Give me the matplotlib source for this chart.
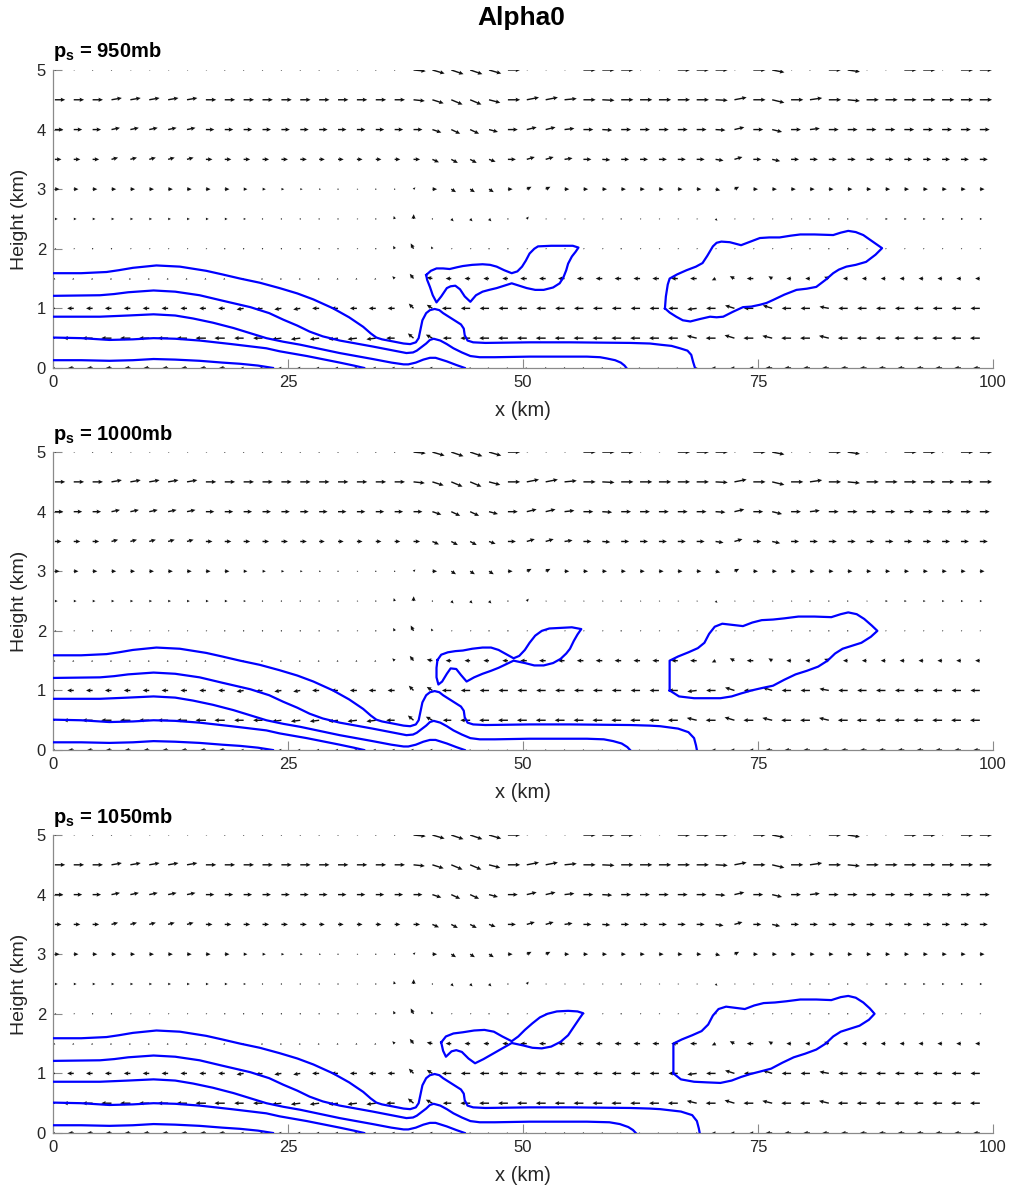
import numpy as np
import matplotlib
matplotlib.use('Agg')
import matplotlib.pyplot as plt

plt.rcParams['font.family'] = ['Liberation Sans', 'DejaVu Sans']
plt.rcParams['mathtext.fontset'] = 'custom'
plt.rcParams['mathtext.rm'] = 'Liberation Sans'
plt.rcParams['mathtext.bf'] = 'Liberation Sans:bold'

# wind sample grid (km)
x_grid = np.linspace(0.2, 98.6, 50)
z_grid = np.arange(0, 5.01, 0.5)

# horizontal wind u (m/s) per level, 50 columns each
u_00 = [-6, -6, -6, -6, -6, -6, -6, -6, -6, -6,
        -3, -3, -3, -3, -3, -3, -3, -3, -3, -3,
        -3, -1.5, -1.5, -1.5, -1.5, -1.5, -1.5, -1.5, -1.5, -1.5,
        -1.5, -1.5, -1.5, -1.5, -1.5, -4, -4, -4, -7, -7,
        -7, -7, -7, -7, -7, -7, -7, -7, -7, -7]
u_05 = [-11, -11, -11, -11, -11, -11, -11, -11, -11, -11,
        -10, -10, -10, -10, -10, -10, -10, -10, -9, -6,
        -7, -9, -10.5, -10.5, -10.5, -10.5, -10.5, -10.5, -10.5, -10.5,
        -10.5, -10.5, -10.5, -10.5, -10.5, -10.5, -10.5, -10.5, -10.5, -10.5,
        -10.5, -10.5, -10.5, -10.5, -10.5, -10.5, -10.5, -10.5, -10.5, -10.5]
u_10 = [-7, -7, -7, -7, -7, -7, -7, -7, -7, -7,
        -7.5, -7.5, -7.5, -7.5, -7.5, -7.5, -7.5, -7.5, -7.5, -5,
        -6, -10, -10, -10, -10, -10, -10, -10, -10, -10,
        -10, -10, -10, -10, -10, -10, -10, -10, -10, -10,
        -10, -10, -10, -10, -10, -10, -10, -10, -10, -10]
u_15 = [-1.5, -1.5, -1.5, -1.5, -1.5, -1.5, -1.5, -1.5, -1.5, -1.5,
        -1.5, -1.5, -1.5, -1.5, -1.5, -1.5, -1.5, -1.5, -2.5, -4,
        -6, -6, -6, -6, -6, -7, -7, -7, -7, -7,
        -7, -7, -7, -7, -7, -4, -5, -7, -4, -5,
        -5, -5, -5, -5, -5, -5, -5, -5, -5, -5]
u_20 = [1.5, 1.5, 1.5, 1.5, 1.5, 1.5, 1.5, 1.5, 1.5, 1.5,
        1.5, 1.5, 1.5, 1.5, 1.5, 1.5, 1.5, 1.5, -1.5, -3,
        -1.5, 1.5, 1.5, 1.5, 1.5, 1.5, 1.5, 1.5, 1.5, 1.5,
        1.5, 1.5, 1.5, 1.5, 1.5, 1.5, 1.5, 1.5, 1.5, 1.5,
        1.5, 1.5, 1.5, 1.5, 1.5, 1.5, 1.5, 1.5, 1.5, 1.5]
u_25 = [3, 3, 3, 3, 3, 3, 3, 3, 3, 3,
        2.5, 1.5, 1.5, 1.5, 1.5, 1.5, 1.5, 1.5, -1, 0.2,
        1, 2.5, 2.5, 2.5, 1.5, 2, 1.5, 1.5, 1.5, 1.5,
        1.5, 1.5, 1.5, 1.5, 1.5, 2, 1.5, 1.5, 1.5, 1.5,
        1.5, 1.5, 1.5, 1.5, 2.5, 2.5, 2.5, 2.5, 2.5, 2.5]
u_30 = [5, 5, 5, 5, 5, 5, 5, 5, 5, 5,
        4, 3.5, 3, 2.5, 2, 1.5, 1.5, 1.5, 1.5, 2,
        5, 5, 5, 5, 5, 5, 5, 5, 5, 5,
        5, 5, 5, 5, 5, 5, 5, 5, 5, 5,
        5, 5, 5, 5, 5, 5, 5, 5, 5, 5]
u_35 = [7, 7, 7, 7, 7, 7, 7, 7, 7, 7,
        7, 7, 7, 7, 6, 6, 6, 6, 6, 7,
        7, 7, 7, 7, 8.5, 8.5, 8.5, 8.5, 8.5, 8.5,
        8.5, 8.5, 8.5, 8.5, 8.5, 8.5, 8.5, 8.5, 8.5, 8.5,
        8.5, 8.5, 8.5, 8.5, 8.5, 8.5, 8.5, 8.5, 8.5, 8.5]
u_40 = [9, 9, 9, 9, 9, 9, 9, 9, 9, 9,
        9, 9, 9, 9, 9, 9, 9, 9, 9, 9.5,
        9.5, 9.5, 9.5, 9.5, 10.5, 10.5, 10.5, 10.5, 10.5, 10.5,
        10.5, 10.5, 10.5, 10.5, 10.5, 10.5, 10.5, 10.5, 10.5, 10.5,
        10.5, 10.5, 10.5, 10.5, 10.5, 10.5, 10.5, 10.5, 10.5, 10.5]
u_45 = [11, 11, 11, 11, 11, 11, 11, 11, 11, 11,
        11, 11, 11, 11, 11, 11, 11, 11, 11, 12,
        12, 12, 12, 12, 13, 13, 13, 13, 13, 13,
        13, 13, 13, 13, 13, 13, 13, 13, 13, 13,
        13, 13, 13, 13, 13, 13, 13, 13, 13, 13]
u_50 = [1.5, 1.5, 1.5, 1.5, 1.5, 1.5, 1.5, 1.5, 1.5, 1.5,
        1.5, 1.5, 1.5, 1.5, 1.5, 1.5, 1.5, 1.5, 1.5, 13,
        13, 13, 13, 13, 13, 1.5, 1.5, 1.5, 13, 13,
        13, 1.5, 1.5, 13, 13, 13, 1.5, 13, 13, 1.5,
        1.5, 13, 13, 1.5, 1.5, 13, 13, 1.5, 13, 13]

# vertical wind w (m/s) per level
w_00 = [0] * 50
w_05 = [0, 0, 0, 0, 0, 0, 0, 0, 0, 0,
        0, 0, -0.2, -0.2, -0.2, -0.2, -0.2, -0.2, 0, 0.8,
        0.6, 0, 0, 0, 0, 0, 0, 0, 0, 0,
        0, 0, 0, 0, 0.4, 0, 0.5, 0, 0.4, 0,
        0, 0.4, 0, 0, 0, 0, 0, 0, 0, 0]
w_10 = [0, 0, 0, 0, 0, 0, 0, 0, 0, 0,
        -0.2, -0.2, -0.2, -0.2, 0, 0, 0, 0, 0, 0.8,
        0.6, 0, 0, 0, 0, 0, 0, 0, 0, 0,
        0, 0, 0, 0, -0.2, 0, 0.5, 0, 0.5, 0,
        0, 0.3, 0, 0, 0, 0, 0, 0, 0, 0]
w_15 = [-0.2, -0.2, -0.2, -0.2, -0.2, -0.2, -0.2, -0.2, -0.2, -0.2,
        -0.2, -0.2, -0.2, -0.2, -0.2, -0.2, -0.2, -0.2, 0.4, 0.8,
        0.2, 0, 0, 0, 0, 0, 0, 0, 0, 0,
        0, 0, 0, 0, 0, -0.3, 0.4, 0, 0.4, 0,
        0, 0.3, 0, 0, 0, 0, 0, 0, 0, 0]
w_20 = [0, 0, 0, 0, 0, 0, 0, 0, 0, 0,
        0, 0, 0, 0, 0, 0, 0, 0, 0.5, 0.9,
        0.4, 0, 0, 0, 0, 0, 0, 0, 0, 0,
        0, 0, 0, 0, 0, 0, 0, 0, 0, 0,
        0, 0, 0, 0, 0, 0, 0, 0, 0, 0]
w_25 = [0, 0, 0, 0, 0, 0, 0, 0, 0, 0,
        0, 0, 0, 0, 0, 0, 0, 0, 0.5, 0.8,
        0, -0.4, -0.4, -0.4, 0, 0.4, 0, 0, 0, 0,
        0, 0, 0, 0, 0, -0.3, 0, 0, 0, 0,
        0, 0, 0, 0, 0, 0, 0, 0, 0, 0]
w_30 = [0, 0, 0, 0, 0, 0, 0, 0, 0, 0,
        0, 0, 0, 0, 0, 0, 0, 0, 0, 0.3,
        0, -0.5, -0.5, -0.5, 0, 0.4, 0.4, 0, 0, 0,
        0, 0, 0, 0, 0, -0.2, 0.4, 0, 0, 0,
        0, 0, 0, 0, 0, 0, 0, 0, 0, 0]
w_35 = [0, 0, 0, 0.3, 0.3, 0.3, 0.3, 0.3, 0, 0,
        0, 0, 0, 0, 0, 0, 0, 0, 0, 0,
        -0.5, -0.6, -0.6, -0.4, 0, 0.4, 0.4, 0.2, 0, -0.1,
        0, 0, 0, 0, 0, -0.2, 0.4, 0, -0.3, 0,
        0, 0, 0, 0, 0, 0, 0, 0, 0, 0]
w_40 = [0, 0, 0, 0.3, 0.3, 0.3, 0.3, 0.3, 0, 0,
        0, 0, 0, 0, 0, 0, 0, 0, 0, 0,
        -0.5, -0.7, -0.7, -0.4, 0, 0.4, 0.4, 0.2, 0, -0.1,
        0, 0, 0, 0, 0, -0.1, 0.4, 0, -0.4, 0,
        0.2, 0, 0, 0, 0, 0, 0, 0, 0, 0]
w_45 = [0, 0, 0, 0.3, 0.3, 0.3, 0.3, 0.3, 0, 0,
        0, 0, 0, 0, 0, 0, 0, 0, 0, -0.2,
        -0.6, -0.8, -0.8, -0.5, 0, 0.4, 0.4, 0.2, 0, -0.1,
        0, 0, 0, 0, 0, -0.1, 0.4, 0, -0.5, 0,
        0.3, 0, -0.2, 0, 0, 0, 0, 0, 0, 0]
w_50 = [0, 0, 0, 0, 0, 0, 0, 0, 0, 0,
        0, 0, 0, 0, 0, 0, 0, 0, 0, -0.2,
        -0.6, -0.7, -0.7, -0.6, 0, 0, 0, 0, 0, 0,
        0, 0, 0, 0, 0, 0, 0, 0, -0.4, 0,
        0, 0, -0.3, 0, 0, 0, 0, 0, 0, 0]

U = np.array([u_00, u_05, u_10, u_15, u_20, u_25, u_30, u_35, u_40, u_45, u_50])
W = np.array([w_00, w_05, w_10, w_15, w_20, w_25, w_30, w_35, w_40, w_45, w_50])

# contour lines (x km, height km)
# left part of the outer line, common to all panels
line_a_left = [(0, 1.59), (3, 1.59), (5.7, 1.61), (7, 1.64), (8.5, 1.68), (11, 1.72),
               (13.5, 1.70), (16.3, 1.63), (18, 1.57), (19.9, 1.50), (22, 1.43), (24.1, 1.34),
               (26, 1.25), (27.7, 1.15), (29.8, 1.0), (31.5, 0.85), (33, 0.69), (33.8, 0.58),
               (34.4, 0.51), (35, 0.48), (36, 0.45), (37.3, 0.41), (38, 0.40), (38.6, 0.43),
               (38.9, 0.50), (39.1, 0.65), (39.3, 0.80), (39.7, 0.92), (40.1, 0.97),
               (40.6, 0.99), (41.1, 0.97), (41.5, 0.92), (42.2, 0.85), (42.9, 0.78),
               (43.4, 0.73), (43.7, 0.66), (43.8, 0.55), (44.1, 0.46), (44.7, 0.43),
               (46, 0.42), (50.7, 0.43), (55, 0.43), (61.4, 0.42), (63.5, 0.41)]
line_a_end_950 = [(64.6, 0.39), (65.8, 0.37), (66.7, 0.33), (67.5, 0.29), (67.9, 0.22),
                  (68.1, 0.1), (68.3, 0.0)]
line_a_end_1000 = [(64.6, 0.40), (66.5, 0.36), (67.6, 0.30), (68.2, 0.20), (68.4, 0.08),
                   (68.5, 0.0)]
line_a_end_1050 = [(64.6, 0.40), (66.8, 0.36), (68, 0.30), (68.5, 0.20), (68.7, 0.08),
                   (68.8, 0.0)]

line_b_left = [(0, 1.21), (5, 1.22), (6.5, 1.24), (8, 1.27), (10.7, 1.30), (13, 1.28),
               (15.6, 1.22), (18, 1.13), (21, 1.02), (23, 0.92), (24.5, 0.81), (26, 0.71),
               (27.3, 0.61), (28.7, 0.53), (30.5, 0.46), (34, 0.36), (37.6, 0.25), (38.3, 0.26),
               (38.7, 0.29), (39.2, 0.35), (39.7, 0.41), (40.1, 0.47), (40.5, 0.49),
               (41.2, 0.46), (41.9, 0.40), (42.6, 0.33), (43.5, 0.26), (44.4, 0.20),
               (45.4, 0.18), (47, 0.18), (50.7, 0.19), (56.8, 0.19)]
line_b_end_950 = [(58.2, 0.18), (58.9, 0.16), (59.8, 0.13), (60.4, 0.09), (60.8, 0.04),
                  (61, 0.0)]
line_b_end_1000 = [(58.6, 0.18), (59.6, 0.15), (60.5, 0.11), (61.1, 0.05), (61.4, 0.0)]
line_b_end_1050 = [(59.2, 0.18), (60.3, 0.15), (61.2, 0.10), (61.7, 0.05), (62, 0.0)]

line_c = [(0, 0.86), (5, 0.86), (6.5, 0.87), (8, 0.88), (10.7, 0.90), (13, 0.88),
          (14.9, 0.83), (17, 0.76), (19.2, 0.67), (22.7, 0.50), (24.5, 0.44),
          (26.3, 0.39), (30.5, 0.25), (34, 0.15), (36, 0.09), (37.3, 0.06), (37.8, 0.06),
          (38.6, 0.09), (39.4, 0.14), (40.1, 0.17), (40.7, 0.17), (41.3, 0.14),
          (41.9, 0.11), (42.9, 0.05), (43.8, 0.0)]
line_d = [(0, 0.51), (3, 0.50), (6, 0.47), (8.5, 0.48), (10.7, 0.50), (13, 0.49),
          (15.6, 0.46), (19, 0.40), (22.7, 0.33), (24.1, 0.28), (27, 0.20), (30.5, 0.09),
          (32, 0.04), (33.1, 0.0)]
line_e = [(0, 0.13), (3, 0.13), (6, 0.12), (8.5, 0.13), (10.7, 0.15), (13, 0.14),
          (15.6, 0.12), (18, 0.09), (19.9, 0.07), (21.8, 0.04), (23.4, 0.0)]

cell_1_950 = [(39.7, 1.56), (40.2, 1.63), (40.8, 1.67), (41.5, 1.67), (42.2, 1.66),
              (43, 1.69), (43.6, 1.71), (44.6, 1.73), (45.7, 1.74), (46.5, 1.73),
              (47.2, 1.70), (48, 1.64), (48.8, 1.59), (49.4, 1.62), (49.9, 1.70),
              (50.3, 1.80), (50.7, 1.92), (51.2, 2.0), (51.6, 2.04), (53, 2.05),
              (54.3, 2.05), (55.3, 2.05), (55.9, 2.02), (55.6, 1.95), (55.2, 1.87),
              (54.8, 1.75), (54.6, 1.64), (54.3, 1.52), (53.9, 1.42), (53.2, 1.35),
              (52.2, 1.31), (51.3, 1.31), (50.4, 1.34), (49.6, 1.38), (48.8, 1.42),
              (48, 1.38), (47.2, 1.34), (46.4, 1.31), (45.7, 1.28), (45, 1.22),
              (44.4, 1.11), (43.8, 1.2), (43.3, 1.32), (42.8, 1.38), (42.3, 1.37),
              (41.9, 1.34), (41.3, 1.2), (40.8, 1.10), (40.4, 1.22), (40.1, 1.36),
              (39.8, 1.48), (39.7, 1.56)]
cell_1_1000 = [(40.9, 1.51), (41.3, 1.60), (42, 1.64), (42.8, 1.66), (43.6, 1.67),
               (44.6, 1.70), (45.7, 1.72), (46.6, 1.72), (47.4, 1.68), (48.2, 1.61),
               (49, 1.54), (49.6, 1.58), (50.2, 1.68), (50.7, 1.80), (51.3, 1.92),
               (52, 2.0), (52.8, 2.04), (54, 2.05), (55.2, 2.06), (56.2, 2.03),
               (55.8, 1.94), (55.4, 1.83), (55, 1.70), (54.6, 1.62), (54, 1.53),
               (53.2, 1.46), (52.2, 1.42), (51.2, 1.42), (50.2, 1.46), (49, 1.50),
               (48.2, 1.44), (47.4, 1.38), (46.6, 1.33), (45.7, 1.28), (44.8, 1.22),
               (44, 1.15), (43.4, 1.26), (42.9, 1.36), (42.3, 1.37), (41.9, 1.28),
               (41.4, 1.15), (41, 1.10), (40.8, 1.22), (40.8, 1.38), (40.9, 1.51)]
cell_1_1050 = [(41.3, 1.52), (41.8, 1.62), (42.6, 1.67), (43.6, 1.69), (44.8, 1.72),
               (45.9, 1.73), (46.9, 1.70), (47.8, 1.62), (48.8, 1.54), (49.5, 1.62),
               (50.2, 1.73), (51, 1.84), (51.8, 1.94), (52.6, 2.00), (53.6, 2.04),
               (54.8, 2.05), (55.8, 2.04), (56.4, 2.01), (56, 1.92), (55.4, 1.78),
               (54.8, 1.64), (54, 1.53), (53, 1.45), (52, 1.42), (51, 1.43),
               (50, 1.47), (48.8, 1.51), (47.8, 1.42), (46.8, 1.33), (45.8, 1.24),
               (44.9, 1.17), (44.2, 1.25), (43.5, 1.36), (42.9, 1.39), (42.4, 1.37),
               (41.8, 1.28), (41.5, 1.38), (41.3, 1.52)]

cell_2_950 = [(65.1, 1.0), (65.2, 1.2), (65.4, 1.40), (65.6, 1.50), (66.4, 1.57),
              (67.4, 1.64), (68.4, 1.70), (69.1, 1.76), (69.6, 1.88), (70.2, 2.04),
              (70.6, 2.10), (71.1, 2.12), (72, 2.11), (73.2, 2.06), (74.2, 2.12),
              (75.2, 2.18), (76.2, 2.19), (77.3, 2.19), (78.5, 2.22), (79.5, 2.24),
              (81, 2.24), (83, 2.23), (83.8, 2.27), (84.6, 2.30), (85.4, 2.28),
              (86.2, 2.23), (87.2, 2.12), (88.2, 2.01), (87.5, 1.90), (86.5, 1.78),
              (85.4, 1.73), (84.4, 1.70), (83.6, 1.65), (83, 1.59), (82.2, 1.48),
              (81.2, 1.36), (80.2, 1.33), (79.1, 1.31), (77.8, 1.23), (76.6, 1.14),
              (75.9, 1.09), (75.2, 1.06), (74.3, 1.03), (73.4, 1.02), (72.3, 0.94),
              (71.3, 0.86), (70.6, 0.85), (69.9, 0.86), (68.8, 0.82), (67.8, 0.78),
              (67, 0.80), (66.3, 0.86), (65.6, 0.93), (65.1, 1.0)]
cell_2_1000 = [(65.6, 1.0), (65.6, 1.25), (65.6, 1.50), (66.5, 1.57), (67.6, 1.64),
               (68.6, 1.71), (69.3, 1.80), (69.8, 1.95), (70.4, 2.07), (71.2, 2.12),
               (72.3, 2.10), (73.4, 2.08), (74.4, 2.14), (75.4, 2.18), (76.6, 2.19),
               (77.8, 2.21), (79.3, 2.24), (81, 2.24), (82.8, 2.23), (83.8, 2.28),
               (84.6, 2.31), (85.5, 2.28), (86.3, 2.20), (87.1, 2.09), (87.7, 2.0),
               (87, 1.90), (86, 1.80), (85, 1.75), (84, 1.70), (83.2, 1.62),
               (82.4, 1.50), (81.4, 1.40), (80.2, 1.33), (79, 1.27), (77.8, 1.18),
               (76.6, 1.08), (75.4, 1.04), (74.3, 1.0), (73.2, 0.95), (72.2, 0.90),
               (71, 0.87), (69.5, 0.87), (68.2, 0.87), (66.6, 0.90), (65.6, 1.0)]
cell_2_1050 = [(66, 1.0), (66, 1.25), (66, 1.50), (66.9, 1.57), (68, 1.64),
               (69, 1.71), (69.7, 1.82), (70.2, 1.97), (70.8, 2.08), (71.6, 2.12),
               (72.6, 2.10), (73.6, 2.08), (74.6, 2.14), (75.6, 2.18), (76.8, 2.19),
               (78, 2.21), (79.5, 2.24), (81.2, 2.24), (82.8, 2.23), (83.8, 2.28),
               (84.6, 2.30), (85.4, 2.27), (86.2, 2.19), (86.9, 2.09), (87.4, 2.0),
               (86.8, 1.90), (85.8, 1.80), (84.8, 1.75), (83.8, 1.70), (83, 1.62),
               (82.2, 1.50), (81.2, 1.40), (80, 1.33), (78.8, 1.27), (77.6, 1.18),
               (76.4, 1.08), (75.2, 1.03), (74.2, 0.99), (73.2, 0.94), (72.2, 0.88),
               (71, 0.84), (69.5, 0.85), (68.2, 0.86), (66.8, 0.90), (66, 1.0)]

panel_titles = ['950mb', '1000mb', '1050mb']
panel_lines = [
    [line_a_left + line_a_end_950, line_b_left + line_b_end_950, line_c, line_d, line_e,
     cell_1_950, cell_2_950],
    [line_a_left + line_a_end_1000, line_b_left + line_b_end_1000, line_c, line_d, line_e,
     cell_1_1000, cell_2_1000],
    [line_a_left + line_a_end_1050, line_b_left + line_b_end_1050, line_c, line_d, line_e,
     cell_1_1050, cell_2_1050],
]

fig = plt.figure(figsize=(10.17, 11.9), dpi=100)
fig.text(0.513, 0.985, 'Alpha0', ha='center', va='center', fontsize=19, fontweight='bold')

bottoms = [0.6908, 0.3697, 0.0479]
XX, ZZ = np.meshgrid(x_grid, z_grid)
axis_grey = '#8a8a8a'
text_grey = '#262626'

for bottom, title, lines in zip(bottoms, panel_titles, panel_lines):
    ax = fig.add_axes([0.0521, bottom, 0.9243, 0.2504])
    ax.quiver(XX, ZZ, U, W, angles='xy', scale_units='xy', scale=10,
              width=0.0015, headwidth=3, headlength=3.2, headaxislength=2.9,
              color='#111111', zorder=2)
    for pts in lines:
        xs = [p[0] for p in pts]
        zs = [p[1] for p in pts]
        ax.plot(xs, zs, color='#0000ff', lw=1.6, zorder=3, solid_joinstyle='round')

    ax.set_xlim(0, 100)
    ax.set_ylim(0, 5)
    ax.set_xticks([0, 25, 50, 75, 100])
    ax.set_yticks([0, 1, 2, 3, 4, 5])
    ax.spines['top'].set_visible(False)
    ax.spines['right'].set_visible(False)
    for s in ('left', 'bottom'):
        ax.spines[s].set_color(axis_grey)
        ax.spines[s].set_linewidth(0.9)
    ax.tick_params(direction='in', length=6.5, width=0.8, color=axis_grey,
                   labelsize=12, labelcolor=text_grey, pad=5)
    ax.set_xlabel('x (km)', fontsize=14.5, color=text_grey, labelpad=8)
    ax.set_ylabel('Height (km)', fontsize=14, color=text_grey, labelpad=6)
    ax.set_title(r'$\mathbf{p_s}$ = ' + title, loc='left', fontsize=14.5,
                 fontweight='bold', pad=9)

fig.savefig('out.png', dpi=100)
